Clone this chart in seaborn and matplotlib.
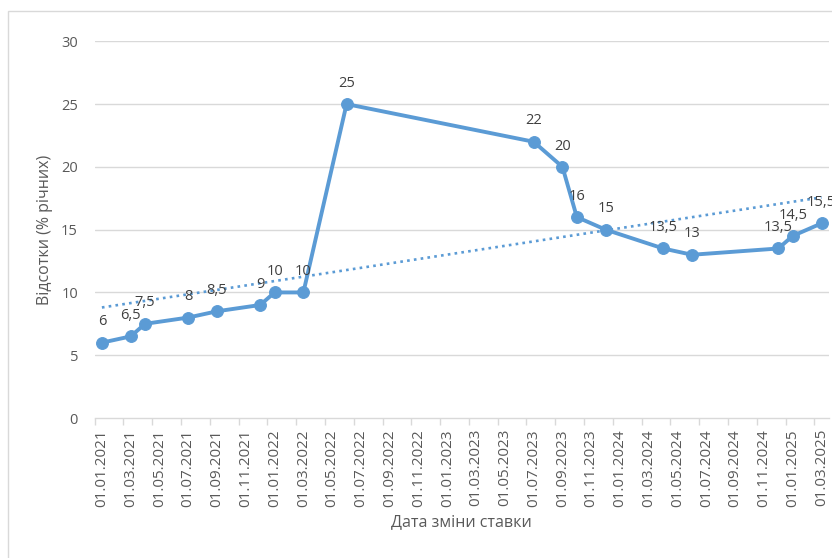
import numpy as np
import pandas as pd
import matplotlib
matplotlib.use("Agg")
import matplotlib.pyplot as plt
from matplotlib.patches import Rectangle
import seaborn as sns

# місяці зміни облікової ставки та її значення
months = ["01.2021", "03.2021", "04.2021", "07.2021", "09.2021", "12.2021",
          "01.2022", "03.2022", "06.2022", "07.2023", "09.2023", "10.2023",
          "12.2023", "04.2024", "06.2024", "12.2024", "01.2025", "03.2025"]
rates = [6, 6.5, 7.5, 8, 8.5, 9, 10, 10, 25, 22, 20, 16, 15, 13.5, 13, 13.5, 14.5, 15.5]
tick_dates = pd.date_range("2021-01-01", "2025-03-01", freq="2MS")
tick_labels = [d.strftime("%d.%m.%Y") for d in tick_dates]
y_ticks = [0, 5, 10, 15, 20, 25, 30]

BLUE = "#5B9BD5"
GRID = "#D9D9D9"
TXT = "#595959"

def month_pos(m, y):
    # позиція місяця на осі (Excel: базова одиниця — місяць)
    return (y - 2021) * 12 + (m - 1)

x = [month_pos(int(s[:2]), int(s[3:])) + 0.5 for s in months]
df = pd.DataFrame({"x": x, "rate": rates})

sns.set_theme(style="white")
plt.rcParams["font.family"] = ["Open Sans", "DejaVu Sans"]

fig = plt.figure(figsize=(8.32, 5.58), dpi=100)
W, H = 832, 558
ax = fig.add_axes([94.7 / W, 1 - 418 / H, (828.7 - 94.7) / W, (418 - 41.3) / H])

# рамка діаграми
fig.patches.append(Rectangle((8 / W, -0.1), 1.2, 1 - 10.7 / H + 0.1,
                             transform=fig.transFigure, fill=False,
                             ec=GRID, lw=1.0))

# лінійний тренд
sns.regplot(data=df, x="x", y="rate", scatter=False, ci=None, truncate=True,
            ax=ax, line_kws=dict(color=BLUE, lw=1.9, ls=(0, (1, 1.6)), zorder=2))

sns.lineplot(data=df, x="x", y="rate", ax=ax, color=BLUE, lw=2.8,
             marker="o", markersize=8.5, markeredgecolor=BLUE, zorder=3)

for xi, yi in zip(x, rates):
    lab = ("%g" % yi).replace(".", ",")
    ax.annotate(lab, (xi, yi), xytext=(0, 15), textcoords="offset points",
                ha="center", va="center", fontsize=10.5, color="#404040", zorder=4)

ax.set_xlim(0, 51)
ax.set_ylim(0, 30)
ax.set_yticks(y_ticks)
ax.set_yticklabels([str(t) for t in y_ticks])
for t in y_ticks[1:]:
    ax.axhline(t, color=GRID, lw=1.0, zorder=0)

tick_pos = [month_pos(d.month, d.year) for d in tick_dates]
ax.set_xticks(tick_pos)
ax.set_xticklabels([])
ax.set_xticks([p + 0.5 for p in tick_pos], minor=True)
ax.set_xticklabels(tick_labels, minor=True, rotation=90)
ax.tick_params(axis="x", which="major", length=5, width=1, color=GRID, direction="out", bottom=True)
ax.tick_params(axis="x", which="minor", length=0, pad=8, labelsize=11, labelcolor=TXT)
ax.tick_params(axis="y", length=0, pad=12, labelsize=10.5, labelcolor=TXT)

for side in ["top", "right", "left"]:
    ax.spines[side].set_visible(False)
ax.spines["bottom"].set_color(GRID)
ax.spines["bottom"].set_linewidth(1.0)

ax.set_xlabel("Дата зміни ставки", fontsize=11.5, color=TXT)
ax.set_ylabel("Відсотки (% річних)", fontsize=11.5, color=TXT)
ax.xaxis.set_label_coords(0.5, (418 - 514) / 376.7)
ax.yaxis.set_label_coords((53 - 94.7) / 734, 0.5)

fig.savefig("out.png", dpi=100)
